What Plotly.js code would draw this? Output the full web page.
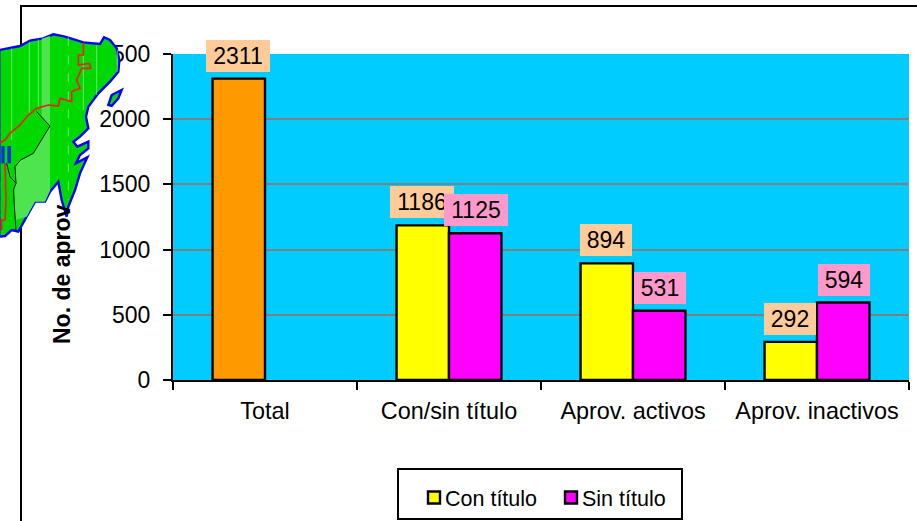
<!DOCTYPE html>
<html><head><meta charset="utf-8">
<script src="https://cdn.plot.ly/plotly-3.0.1.min.js"></script>
<style>html,body{margin:0;padding:0;background:#fff;overflow:hidden}</style>
</head><body><div id="chart" style="width:917px;height:521px"></div>
<script>
const categories = ["Total","Con/sin título","Aprov. activos","Aprov. inactivos"];
const totalValues = [2311,null,null,null];
const conTitulo = [null,1186,894,292];
const sinTitulo = [null,1125,531,594];
const W=917,H=521,L=173,R=8,T=54,B=141;
const pw=W-L-R, ph=H-T-B;
const FONT='"Liberation Sans", Arial, sans-serif';
const px=x=>(x-L)/pw, py=y=>1-(y-T)/ph;
// decorative map, drawn in page pixels (measured in a 3x crop)
const z=(pts,close)=>pts.map((p,i)=>(i?'L':'M')+(px(p[0]/3)).toFixed(5)+','+(py(p[1]/3)).toFixed(5)).join(' ')+(close?' Z':'');
const landOutline=[[-2,150],[60,138],[90,122],[130,115],[160,103],[195,110],[250,127],[300,132],[312,112],[330,120],[350,145],[358,180],[355,215],[330,245],[295,280],[265,320],[258,350],[265,385],[240,410],[220,425],[232,440],[265,425],[265,445],[240,465],[228,490],[262,472],[240,520],[225,570],[205,620],[200,650],[185,600],[175,545],[150,575],[135,605],[105,605],[80,650],[55,695],[35,690],[15,708],[-2,710]];
const island=[[325,315],[335,285],[365,270],[355,295],[335,318]];
const lightArea=[[45,500],[62,480],[100,460],[150,378],[150,572],[135,605],[105,605],[80,650],[45,660]];
const lightBand=[[125,116],[150,108],[150,378],[125,350],[125,320]];
const redA=[[250,130],[250,165],[235,165],[235,195],[268,190],[272,205],[245,205],[230,240],[240,265],[215,275],[215,305],[180,295],[175,318],[145,315],[110,325],[85,345],[60,375],[30,400],[15,420],[-2,430]];
const redB=[[15,490],[18,600],[15,660],[5,660],[5,690]];
const blackA=[[110,335],[150,378],[100,460],[62,480],[45,500],[48,550],[40,570],[48,692]];
const blackB=[[20,490],[30,530],[48,550]];
const stripes=[[35,145,420],[88,125,340],[115,118,325],[205,112,600],[250,130,330],[290,135,285],[352,150,215]];
const mapShape=(path,fill,lc,lw,dash)=>({type:'path',xref:'paper',yref:'paper',layer:'above',path,fillcolor:fill,line:{color:lc,width:lw,dash:dash||'solid'}});
const shapes=[
 {type:'rect',xref:'paper',yref:'paper',layer:'below',x0:px(21),x1:px(930),y0:py(6),y1:py(530),line:{color:'#000',width:2},fillcolor:'rgba(0,0,0,0)'},
 {type:'rect',xref:'paper',yref:'paper',layer:'below',x0:px(398),x1:px(682),y0:py(469),y1:py(519),line:{color:'#000',width:2},fillcolor:'#fff'},
 mapShape(z(landOutline,true),'#00D900','#0000FF',2.4),
 mapShape(z(island,true),'#00D900','#0000FF',2.4),
 mapShape(z(lightArea,true),'#4DE44D','rgba(0,0,0,0)',0),
 mapShape(z(lightBand,true),'#4DE44D','rgba(0,0,0,0)',0)
];
stripes.forEach(s=>shapes.push(mapShape(z([[s[0],s[1]],[s[0],s[2]]]),'rgba(0,0,0,0)','rgba(190,245,190,0.55)',1,s[0]===205?'dash':'solid')));
shapes.push(mapShape(z(redA),'rgba(0,0,0,0)','#F02020',1.7));
shapes.push(mapShape(z(redB),'rgba(0,0,0,0)','#F02020',1.7));
shapes.push(mapShape(z(blackA),'rgba(0,0,0,0)','#111',1));
shapes.push(mapShape(z(blackB),'rgba(0,0,0,0)','#111',1));
shapes.push(mapShape(z([[4,438],[14,438],[14,490],[4,490]],true),'#1030E0','rgba(0,0,0,0)',0));
shapes.push(mapShape(z([[22,438],[33,438],[33,490],[22,490]],true),'#1030E0','rgba(0,0,0,0)',0));

const barLine={color:'#000',width:2.4};
const mk=(name,y,color,group,legend)=>({type:'bar',name,x:categories,y,offsetgroup:group,showlegend:legend,marker:{color,line:barLine},cliponaxis:false,hoverinfo:'y'});
const traces=[
 mk('Total',totalValues,'#FF9900','a',false),
 mk('Con título',conTitulo,'#FFFF00','a',true),
 mk('Sin título',sinTitulo,'#FF00FF','b',true)
];
const annotations=[];
const addLabels=(vals,dx,bg)=>vals.forEach((v,i)=>{ if(v==null) return;
  const t=String(v);
  annotations.push({xref:'x',yref:'y',x:i+dx,y:v,text:t,showarrow:false,yanchor:'bottom',yshift:7,
    width:t.length*12+16,height:32,bgcolor:bg,font:{family:FONT,size:23,color:'#000'},borderpad:0,borderwidth:0,align:'center',valign:'middle'});
});
addLabels(totalValues,-0.145,'#FFCC99');
addLabels(conTitulo,-0.145,'#FFCC99');
addLabels(sinTitulo,0.145,'#FF99CC');
annotations.push({xref:'paper',yref:'paper',x:px(62),y:py(346),text:'<b>No. de aprov</b>',textangle:-90,showarrow:false,xanchor:'center',yanchor:'bottom',font:{family:FONT,size:23,color:'#000'}});
const layout={
 width:W,height:H,margin:{l:L,r:R,t:T,b:B,pad:0,autoexpand:false},
 paper_bgcolor:'#fff',plot_bgcolor:'#00CCFF',
 font:{family:FONT,size:23,color:'#000'},
 barmode:'group',bargap:0.43,bargroupgap:0,
 showlegend:true,
 legend:{orientation:'h',x:px(414),y:py(477),xanchor:'left',yanchor:'top',entrywidth:92,entrywidthmode:'pixels',bgcolor:'rgba(0,0,0,0)',borderwidth:0,font:{family:FONT,size:21.5,color:'#000'},itemclick:false,itemdoubleclick:false},
 xaxis:{type:'category',tickson:'boundaries',ticks:'outside',ticklen:8,tickwidth:2,tickcolor:'#000',showline:true,linecolor:'#000',linewidth:2,showgrid:false,zeroline:false,tickfont:{family:FONT,size:23.4},ticklabelstandoff:9,fixedrange:true},
 yaxis:{range:[0,2500],tickvals:[0,500,1000,1500,2000,2500],ticktext:['0','500','1000','1500','2000','2500'],ticks:'outside',ticklen:8,tickwidth:2,tickcolor:'#000',showline:true,linecolor:'#000',linewidth:2,showgrid:true,gridcolor:'#808080',gridwidth:2,zeroline:false,tickfont:{family:FONT,size:23},ticklabelstandoff:8,fixedrange:true},
 shapes,annotations
};
Plotly.newPlot('chart',traces,layout,{displayModeBar:false,responsive:false}).then(()=>{
  document.querySelectorAll('.legendtext').forEach(t=>t.setAttribute('x',(+t.getAttribute('x'))-9));
});
</script></body></html>
